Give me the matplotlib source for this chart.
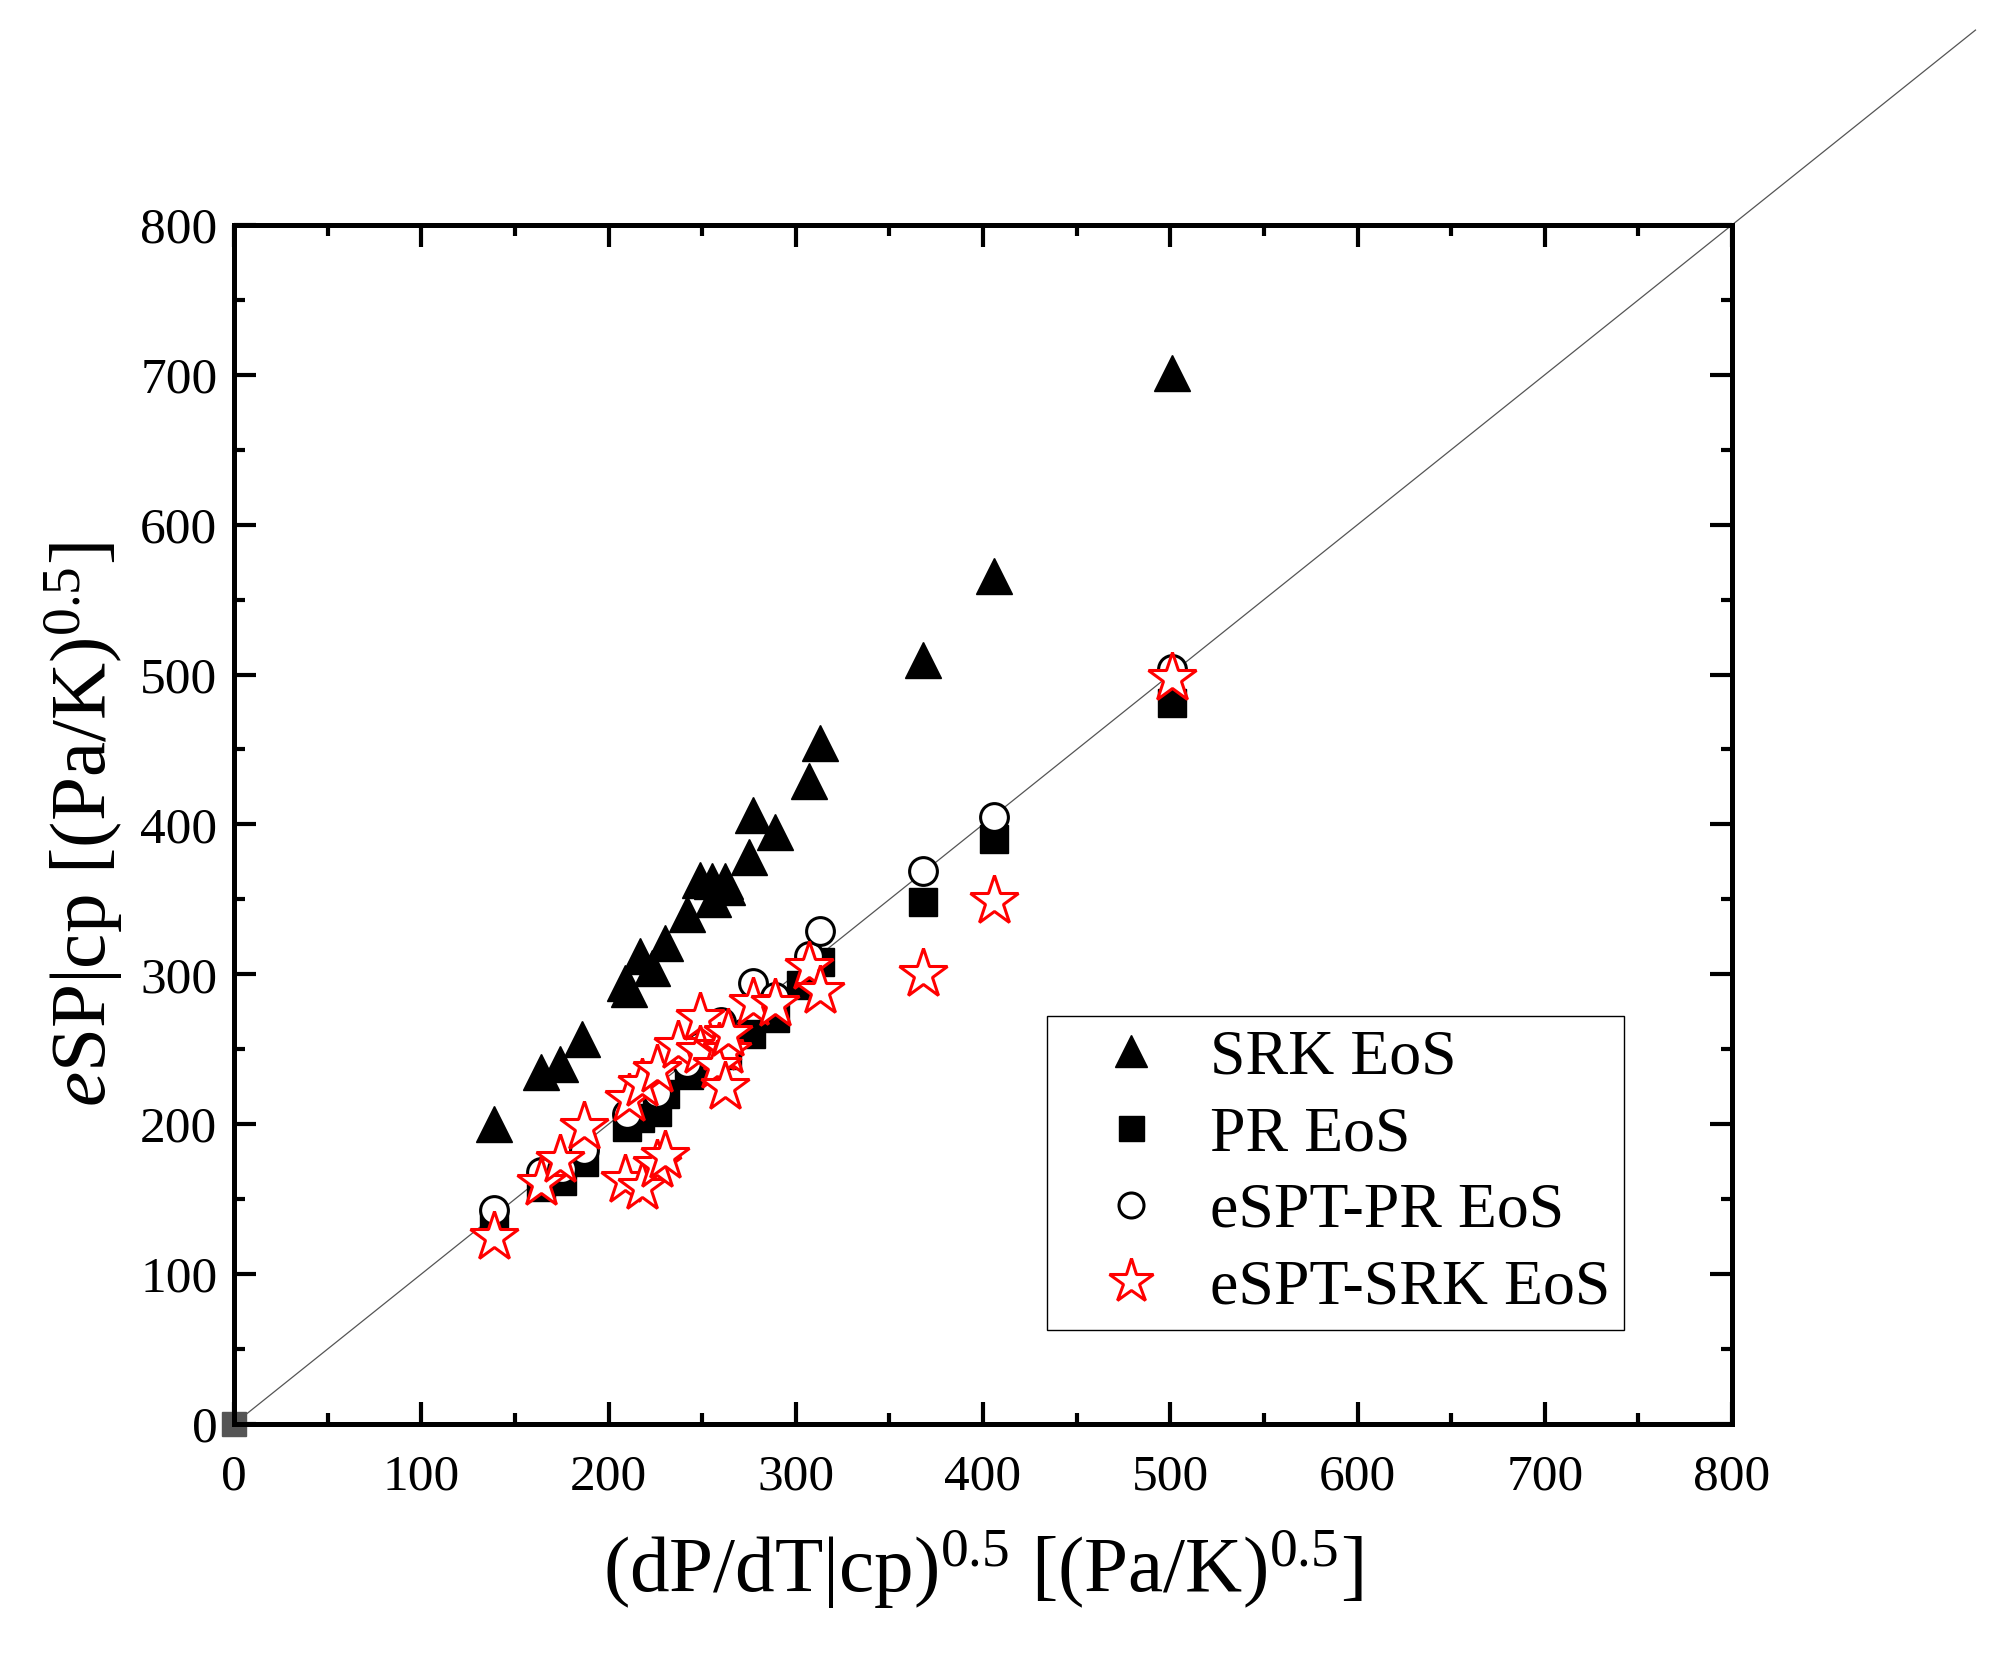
import matplotlib
matplotlib.use("Agg")
import matplotlib.pyplot as plt
from matplotlib.ticker import MultipleLocator

plt.rcParams['font.family'] = ['Liberation Serif', 'DejaVu Serif']
plt.rcParams['mathtext.fontset'] = 'custom'
plt.rcParams['mathtext.rm'] = 'Liberation Serif'
plt.rcParams['mathtext.it'] = 'Liberation Serif:italic'

# SRK EoS (triangles)
srk_x = [139, 164, 174, 186, 209, 211, 217, 223, 230, 242, 249, 255, 262, 263, 256, 275, 277, 289, 307, 313, 368, 406, 501]
srk_y = [200, 235, 240, 257, 294, 290, 312, 304, 321, 340, 363, 362, 362, 358, 350, 378, 406, 395, 429, 454, 510, 566, 701]

# PR EoS (squares)
pr_x = [139, 164, 175, 187, 210, 217, 226, 230, 243, 249, 256, 263, 276, 289, 303, 313, 368, 406, 501]
pr_y = [134, 158, 162, 175, 198, 204, 208, 220, 233, 240, 250, 246, 260, 271, 293, 308, 348, 390, 481]

# eSPT-PR EoS (open circles)
espt_pr_x = [139, 164, 175, 187, 210, 226, 242, 249, 256, 260, 277, 289, 307, 313, 368, 406, 501]
espt_pr_y = [143, 168, 170, 183, 207, 221, 241, 252, 260, 268, 294, 285, 312, 329, 369, 405, 504]

# eSPT-SRK EoS (open red stars)
espt_srk_x = [139, 164, 174, 187, 209, 218, 226, 230, 211, 218, 226, 237, 249, 249, 259, 263, 258, 262, 264, 277, 289, 307, 313, 368, 406, 501]
espt_srk_y = [125, 161, 176, 198, 163, 158, 173, 179, 217, 227, 236, 252, 271, 249, 251, 249, 239, 225, 260, 281, 280, 305, 289, 300, 349, 498]

# parity line
line_x = [0, 930]
line_y = [0, 930]

fig = plt.figure(figsize=(20.04, 16.66), dpi=100)
ax = fig.add_axes([0.1168, 0.1453, 0.7475, 0.7197])

ax.plot(line_x, line_y, color='#555555', lw=0.9, clip_on=False, zorder=1)
ax.plot([0], [0], 's', color='#555555', ms=17, clip_on=False, zorder=2)

ax.plot(srk_x, srk_y, '^', ls='none', color='black', ms=26, label='SRK EoS', zorder=3)
ax.plot(pr_x, pr_y, 's', ls='none', color='black', ms=20, label='PR EoS', zorder=4)
ax.plot(espt_pr_x, espt_pr_y, 'o', ls='none', mfc='white', mec='black', mew=2.2,
        ms=20, label='eSPT-PR EoS', zorder=5)
ax.plot(espt_srk_x, espt_srk_y, '*', ls='none', mfc='white', mec='red', mew=2.2,
        ms=37, label='eSPT-SRK EoS', zorder=6)

ax.set_xlim(0, 800)
ax.set_ylim(0, 800)
ax.xaxis.set_major_locator(MultipleLocator(100))
ax.yaxis.set_major_locator(MultipleLocator(100))
ax.xaxis.set_minor_locator(MultipleLocator(50))
ax.yaxis.set_minor_locator(MultipleLocator(50))
ax.tick_params(which='both', direction='in', top=True, right=True, width=3)
ax.tick_params(which='major', length=16, labelsize=37)
ax.tick_params(which='minor', length=8)
ax.tick_params(axis='x', which='major', pad=22)
ax.tick_params(axis='y', which='major', pad=12)
for s in ax.spines.values():
    s.set_linewidth(3.6)
    s.set_zorder(10)

ax.set_xlabel(r'(dP/dT|cp)$^{0.5}$ [(Pa/K)$^{0.5}$]', fontsize=57, labelpad=20)
ax.set_ylabel(r'$\mathit{e}$SP|cp [(Pa/K)$^{0.5}$]', fontsize=57)
ax.yaxis.set_label_coords(-0.073, 0.5)

leg = ax.legend(loc='upper left', bbox_to_anchor=(0.543, 0.340), fontsize=46,
                frameon=True, fancybox=False, edgecolor='black', framealpha=1,
                borderpad=0.2, handlelength=2.2, handletextpad=0.15,
                labelspacing=0.28, markerscale=0.9, borderaxespad=0)
leg.get_frame().set_linewidth(1.0)

plt.savefig("out.png", dpi=100)
